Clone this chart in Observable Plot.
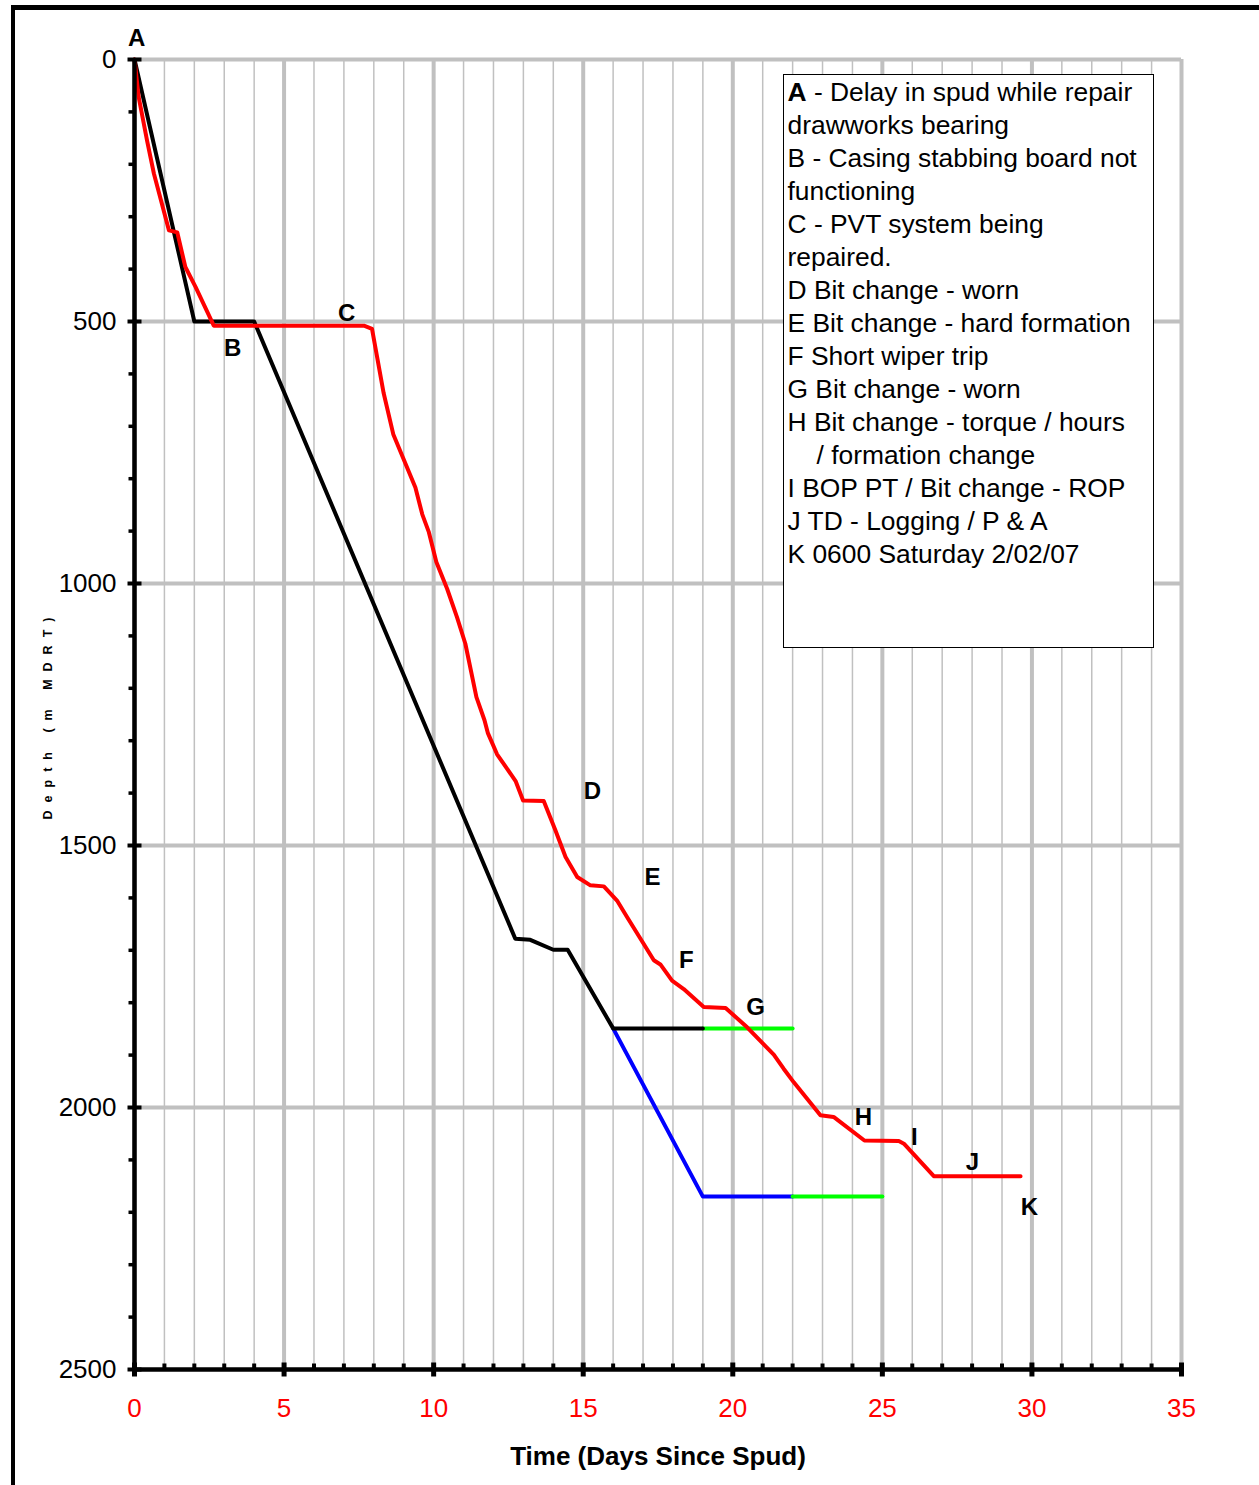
<!DOCTYPE html>
<html>
<head>
<meta charset="utf-8">
<script src="https://cdn.jsdelivr.net/npm/d3@7"></script>
<script src="https://cdn.jsdelivr.net/npm/@observablehq/plot@0.6"></script>
<style>
html, body { margin: 0; padding: 0; background: #fff; }
#wrap { position: relative; width: 1259px; height: 1485px; overflow: hidden; font-family: "Liberation Sans", Arial, sans-serif; }
#frame { position: absolute; left: 11px; top: 5px; width: 1400px; height: 1600px; border-left: 4px solid #000; border-top: 5px solid #000; pointer-events: none; }
#legend { position: absolute; left: 783px; top: 74px; width: 371px; height: 574px; box-sizing: border-box; border: 1.5px solid #000; background: #fff; font-size: 26.4px; line-height: 33px; color: #000; padding: 1px 0 0 3.5px; white-space: nowrap; }
#legend .ind { padding-left: 29px; }
</style>
</head>
<body>
<div id="wrap">
  <div id="chart"></div>
  <div id="frame"></div>
  <div id="legend">
    <div><b>A</b> - Delay in spud while repair</div>
    <div>drawworks bearing</div>
    <div>B - Casing stabbing board not</div>
    <div>functioning</div>
    <div>C - PVT system being</div>
    <div>repaired.</div>
    <div>D Bit change - worn</div>
    <div>E Bit change - hard formation</div>
    <div>F Short wiper trip</div>
    <div>G Bit change - worn</div>
    <div>H Bit change - torque / hours</div>
    <div class="ind">/ formation change</div>
    <div>I BOP PT / Bit change - ROP</div>
    <div>J TD - Logging / P &amp; A</div>
    <div>K 0600 Saturday 2/02/07</div>
  </div>
</div>
<script>
// ---- Data ----
const dayTicks = [0, 5, 10, 15, 20, 25, 30, 35];
const dayMinorTicks = [1,2,3,4,6,7,8,9,11,12,13,14,16,17,18,19,21,22,23,24,26,27,28,29,31,32,33,34];
const depthTicks = [0, 500, 1000, 1500, 2000, 2500];
const depthMinorTicks = [100,200,300,400,600,700,800,900,1100,1200,1300,1400,1600,1700,1800,1900,2100,2200,2300,2400];

// Actual progress (red)
const actualDays = [0, 0.14, 0.42, 0.65, 1.15, 1.43, 1.70, 2.04, 2.65, 7.67, 7.94, 8.33, 8.65, 9.39, 9.62, 9.84, 10.09, 10.45, 10.78, 11.06, 11.43, 11.70, 11.81, 12.12, 12.40, 12.74, 12.99, 13.68, 14.07, 14.41, 14.80, 15.24, 15.69, 16.13, 16.47, 17.36, 17.58, 17.97, 18.36, 19.03, 19.76, 20.48, 21.37, 21.70, 22.04, 22.93, 23.37, 24.40, 25.55, 25.72, 26.72, 29.62];
const actualDepths = [0, 72, 155, 218, 326, 330, 396, 434, 508, 508, 514, 637, 715, 817, 868, 902, 959, 1010, 1064, 1115, 1217, 1261, 1285, 1326, 1349, 1377, 1414, 1415, 1471, 1522, 1560, 1576, 1578, 1605, 1637, 1719, 1727, 1758, 1774, 1808, 1810, 1847, 1899, 1926, 1952, 2015, 2018, 2063, 2064, 2069, 2131, 2131];

// Plan (black)
const planDays = [0, 2, 4, 12.73, 13.23, 14.0, 14.48, 16, 19];
const planDepths = [0, 500, 500, 1678, 1680, 1699, 1699, 1849, 1849];
// Contingency (blue)
const altDays = [16, 19, 22];
const altDepths = [1849, 2170, 2170];
// Green extensions
const green1Days = [19, 22];
const green1Depths = [1849, 1849];
const green2Days = [22, 25];
const green2Depths = [2170, 2170];

// Event letters
const eventNames = ["A", "B", "C", "D", "E", "F", "G", "H", "I", "J", "K"];
const eventDays = [0.07, 3.28, 7.09, 15.31, 17.32, 18.45, 20.76, 24.37, 26.07, 28.01, 29.92];
const eventDepths = [-40, 552, 485, 1397, 1561, 1719, 1809, 2019, 2057, 2105, 2191];

const zipXY = (xs, ys) => xs.map((x, i) => ({x, y: ys[i]}));
const actual = zipXY(actualDays, actualDepths);
const plan = zipXY(planDays, planDepths);
const alt = zipXY(altDays, altDepths);
const green1 = zipXY(green1Days, green1Depths);
const green2 = zipXY(green2Days, green2Depths);
const events = eventNames.map((n, i) => ({n, x: eventDays[i], y: eventDepths[i]}));

// tick symbols
const vCross = {draw(c) { c.moveTo(0, -7); c.lineTo(0, 7); }};
const vUp = {draw(c) { c.moveTo(0, -6); c.lineTo(0, 0); }};
const hCross = {draw(c) { c.moveTo(-7, 0); c.lineTo(7, 0); }};
const hLeft = {draw(c) { c.moveTo(-6, 0); c.lineTo(0, 0); }};

const grid = "#c0c0c0";
const yTitle = "Depth (m MDRT)";

const chart = Plot.plot({
  width: 1259,
  height: 1485,
  marginLeft: 134,
  marginRight: 78,
  marginTop: 59,
  marginBottom: 116,
  style: {fontFamily: "'Liberation Sans', Arial, sans-serif", background: "transparent", overflow: "visible"},
  x: {domain: [0, 35]},
  y: {domain: [0, 2500], reverse: true},
  marks: [
    Plot.ruleX(dayMinorTicks, {x: d => d, stroke: grid, strokeWidth: 1.5}),
    Plot.ruleX(dayTicks, {x: d => d, stroke: grid, strokeWidth: 4}),
    Plot.ruleY(depthTicks.slice(0, -1), {y: d => d, stroke: grid, strokeWidth: 4}),
    Plot.line(alt, {x: "x", y: "y", stroke: "#0000ff", strokeWidth: 4}),
    Plot.line(green1, {x: "x", y: "y", stroke: "#00ff00", strokeWidth: 4}),
    Plot.line(green2, {x: "x", y: "y", stroke: "#00ff00", strokeWidth: 4}),
    Plot.line(plan, {x: "x", y: "y", stroke: "#000", strokeWidth: 4}),
    Plot.line(actual, {x: "x", y: "y", stroke: "#ff0000", strokeWidth: 4}),
    Plot.ruleX([0], {x: d => d, stroke: "#000", strokeWidth: 4.5}),
    Plot.ruleY([2500], {y: d => d, stroke: "#000", strokeWidth: 4.5}),
    Plot.dot(dayTicks, {x: d => d, frameAnchor: "bottom", symbol: vCross, stroke: "#000", fill: "none", strokeWidth: 5}),
    Plot.dot(dayMinorTicks, {x: d => d, frameAnchor: "bottom", symbol: vUp, stroke: "#000", fill: "none", strokeWidth: 4}),
    Plot.dot(depthTicks, {y: d => d, frameAnchor: "left", symbol: hCross, stroke: "#000", fill: "none", strokeWidth: 4}),
    Plot.dot(depthMinorTicks, {y: d => d, frameAnchor: "left", symbol: hLeft, stroke: "#000", fill: "none", strokeWidth: 3.5}),
    Plot.axisY({ticks: depthTicks, tickSize: 0, tickPadding: 18, fontSize: 26, tickFormat: d => String(d), label: null}),
    Plot.axisX({ticks: dayTicks, tickSize: 0, tickPadding: 29, fontSize: 26, color: "#ff0000", tickFormat: d => String(d), label: null}),
    Plot.text(events, {x: "x", y: "y", text: "n", fontSize: 24, fontWeight: "bold", fill: "#000"}),
    Plot.text([yTitle], {text: d => d, frameAnchor: "left", textAnchor: "middle", dx: -87, rotate: -90, fontSize: 12.5, fontWeight: "bold", fill: "#000"}),
    Plot.text(["Time (Days Since Spud)"], {text: d => d, frameAnchor: "bottom", dy: 95, fontSize: 26, fontWeight: "bold", fill: "#000"})
  ]
});
document.getElementById("chart").appendChild(chart);
chart.querySelectorAll("text").forEach(t => {
  if (t.textContent === yTitle) t.style.letterSpacing = "8px";
});
</script>
</body>
</html>
